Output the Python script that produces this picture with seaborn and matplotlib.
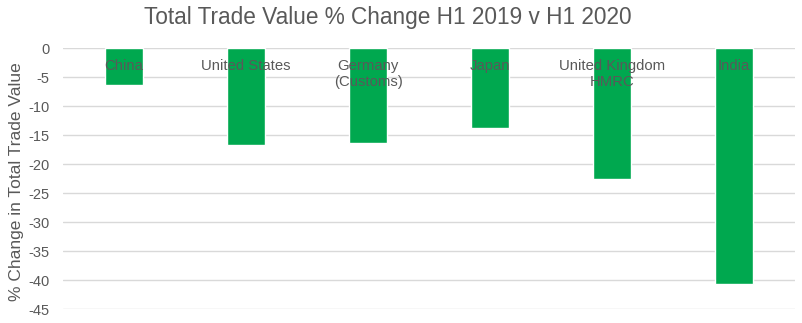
import matplotlib
matplotlib.use("Agg")
import matplotlib.pyplot as plt
import seaborn as sns
import pandas as pd

categories = ["China", "United States", "Germany\n(Customs)", "Japan",
              "United Kingdom\nHMRC", "India"]
pct_change = [-6.4, -16.6, -16.4, -13.7, -22.5, -40.6]
y_ticks = [0, -5, -10, -15, -20, -25, -30, -35, -40, -45]

df = pd.DataFrame({"country": categories, "change": pct_change})

sns.set_style("white")
plt.rcParams["font.family"] = ["Liberation Sans", "DejaVu Sans"]

text_grey = "#595959"
bar_green = "#00A84F"

fig = plt.figure(figsize=(8.02, 3.23), dpi=100)
ax = fig.add_axes([0.0786, 0.0424, 0.9127, 0.8081])

sns.barplot(data=df, x="country", y="change", color=bar_green,
            width=0.31, saturation=1, ax=ax, zorder=2)

ax.set_ylim(-45, 0)
ax.set_xlim(-0.5, len(categories) - 0.5)
ax.set_yticks(y_ticks)
ax.set_yticklabels([str(t) for t in y_ticks])
ax.tick_params(axis="y", length=0, pad=9.5, labelsize=10.5, labelcolor=text_grey)
ax.set_xticks([])
ax.set_xlabel("")
ax.set_ylabel("% Change in Total Trade Value", fontsize=12.5, color=text_grey)
ax.yaxis.set_label_coords(-0.064, 0.49)
ax.yaxis.label.set_va("center")
ax.yaxis.grid(True, color="#d9d9d9", linewidth=1, zorder=0)
ax.set_axisbelow(True)
for s in ax.spines.values():
    s.set_visible(False)

# category names sit at the top of each column, over the bars
for i, name in enumerate(categories):
    ax.text(i, -1.8, name, ha="center", va="top", fontsize=10.7,
            color=text_grey, linespacing=1.2, zorder=3)

fig.suptitle("Total Trade Value % Change H1 2019 v H1 2020", fontsize=16.3,
             color=text_grey, x=0.484, y=0.98)

fig.savefig("out.png", dpi=100)
